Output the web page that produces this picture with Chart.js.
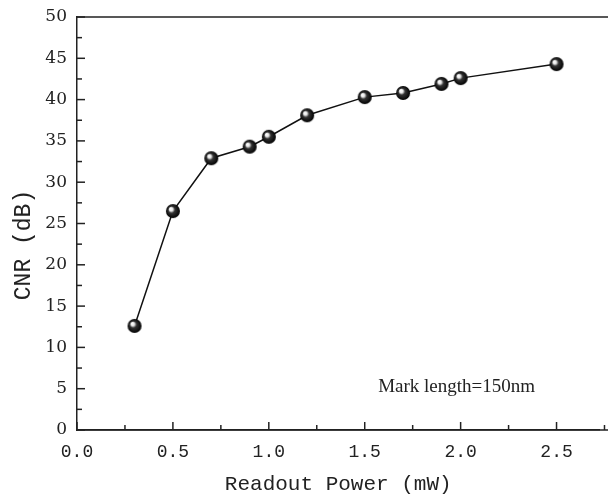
<!DOCTYPE html>
<html>
<head>
<meta charset="utf-8">
<script src="https://cdn.jsdelivr.net/npm/chart.js@4/dist/chart.umd.min.js"></script>
<style>
  html, body { margin: 0; padding: 0; background: #fff; }
  #wrap { width: 608px; height: 497px; }
</style>
</head>
<body>
<div id="wrap"><canvas id="c" width="608" height="497"></canvas></div>
<script>
const readoutPower = [0.3, 0.5, 0.7, 0.9, 1.0, 1.2, 1.5, 1.7, 1.9, 2.0, 2.5];
const cnr = [12.6, 26.5, 32.9, 34.3, 35.5, 38.1, 40.3, 40.8, 41.9, 42.6, 44.3];
const xTicks = [0.0, 0.5, 1.0, 1.5, 2.0, 2.5];
const yTicks = [0, 5, 10, 15, 20, 25, 30, 35, 40, 45, 50];
const xTitle = 'Readout Power (mW)';
const yTitle = 'CNR (dB)';
const note = 'Mark length=150nm';

// sphere marker image
function sphere(r) {
  const s = Math.ceil(r * 2 + 2);
  const cv = document.createElement('canvas');
  cv.width = s; cv.height = s;
  const g = cv.getContext('2d');
  const c = s / 2;
  const grad = g.createRadialGradient(c - r * 0.35, c - r * 0.35, r * 0.05, c, c, r);
  grad.addColorStop(0, '#ffffff');
  grad.addColorStop(0.22, '#e8e8e8');
  grad.addColorStop(0.45, '#333333');
  grad.addColorStop(1, '#000000');
  g.fillStyle = grad;
  g.beginPath(); g.arc(c, c, r, 0, Math.PI * 2); g.fill();
  return cv;
}
const ball = sphere(7);

const ticksPlugin = {
  id: 'ticksPlugin',
  afterDraw(chart) {
    const ctx = chart.ctx;
    const a = chart.chartArea;
    const xs = chart.scales.x, ys = chart.scales.y;
    ctx.save();
    ctx.strokeStyle = '#222';
    ctx.lineWidth = 1.5;
    // top border and bottom axis extended to the canvas edge
    ctx.beginPath();
    ctx.moveTo(a.left, a.top); ctx.lineTo(chart.width, a.top);
    ctx.moveTo(a.left, a.bottom); ctx.lineTo(chart.width, a.bottom);
    ctx.stroke();
    // x ticks (inside, pointing up)
    for (let i = 0; i <= 11; i++) {
      const v = i * 0.25;
      const px = xs.getPixelForValue(v);
      if (px > chart.width) break;
      const len = (i % 2 === 0) ? 8 : 5;
      ctx.beginPath(); ctx.moveTo(px, a.bottom); ctx.lineTo(px, a.bottom - len); ctx.stroke();
    }
    // y ticks (inside, pointing right)
    for (let i = 0; i <= 20; i++) {
      const v = i * 2.5;
      const py = ys.getPixelForValue(v);
      const len = (i % 2 === 0) ? 8 : 5;
      ctx.beginPath(); ctx.moveTo(a.left, py); ctx.lineTo(a.left + len, py); ctx.stroke();
    }
    // y title
    ctx.fillStyle = '#222';
    ctx.font = '23px "Liberation Mono"';
    ctx.textAlign = 'center';
    ctx.textBaseline = 'middle';
    ctx.translate(24, 245);
    ctx.rotate(-Math.PI / 2);
    ctx.fillText(yTitle, 0, 0);
    ctx.setTransform(1, 0, 0, 1, 0, 0);
    // annotation
    ctx.font = '19px "Liberation Serif"';
    ctx.textAlign = 'left';
    ctx.fillText(note, xs.getPixelForValue(1.57), ys.getPixelForValue(5.2));
    ctx.restore();
  }
};

new Chart(document.getElementById('c'), {
  type: 'line',
  data: {
    datasets: [{
      data: readoutPower.map((x, i) => ({ x: x, y: cnr[i] })),
      borderColor: '#111',
      borderWidth: 1.5,
      pointStyle: ball,
      pointRadius: 7,
      tension: 0,
      fill: false,
      clip: false
    }]
  },
  options: {
    responsive: false,
    animation: false,
    devicePixelRatio: 1,
    layout: { padding: { top: 17, right: 0, left: 0, bottom: 0 } },
    plugins: { legend: { display: false }, tooltip: { enabled: false } },
    scales: {
      x: {
        type: 'linear',
        min: 0,
        max: 2.724,
        afterFit(s) { s.height = 67; },
        afterBuildTicks(s) { s.ticks = xTicks.map(v => ({ value: v })); },
        ticks: {
          color: '#222',
          font: { family: 'Liberation Mono', size: 18 },
          padding: 11,
          maxRotation: 0,
          callback: v => Number(v).toFixed(1)
        },
        grid: { drawOnChartArea: false, drawTicks: false },
        border: { display: true, color: '#222', width: 1.5 },
        title: {
          display: true,
          text: xTitle,
          color: '#222',
          font: { family: 'Liberation Mono', size: 21 },
          padding: { top: 0, bottom: 0 }
        }
      },
      y: {
        min: 0,
        max: 50,
        afterFit(s) { s.width = 77; s.paddingTop = 0; s.paddingBottom = 0; },
        afterBuildTicks(s) { s.ticks = yTicks.map(v => ({ value: v })); },
        ticks: {
          color: '#222',
          font: { family: 'DejaVu Serif', size: 17 },
          padding: 10
        },
        grid: { drawOnChartArea: false, drawTicks: false },
        border: { display: true, color: '#222', width: 1.5 },
        title: { display: false }
      }
    }
  },
  plugins: [ticksPlugin]
});
</script>
</body>
</html>
